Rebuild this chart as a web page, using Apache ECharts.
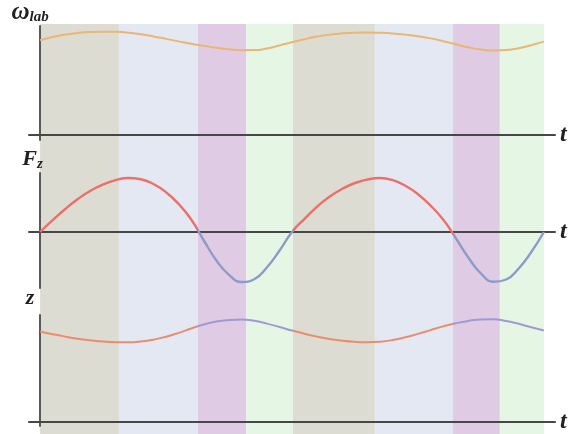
<!DOCTYPE html>
<html>
<head>
<meta charset="utf-8">
<script src="https://cdn.jsdelivr.net/npm/echarts@6/dist/echarts.min.js"></script>
<style>
    html, body { margin: 0; padding: 0; background: #fff; }
    #main { width: 579px; height: 434px; }
</style>
</head>
<body>
<div id="main"></div>
<script>
    // time samples (one period = 1)
    var tVals = [0, 0.05, 0.1, 0.15, 0.2, 0.25, 0.3, 0.35, 0.4, 0.45, 0.5, 0.55, 0.6, 0.65, 0.7, 0.75, 0.8, 0.85, 0.9, 0.95, 1,
                 1.05, 1.1, 1.15, 1.2, 1.25, 1.3, 1.35, 1.4, 1.45, 1.5, 1.55, 1.6, 1.65, 1.7, 1.75, 1.8, 1.85, 1.9, 1.95, 2];
    var omegaVals = [95.7, 98.9, 101.3, 103, 104, 104.3, 104.1, 103.3, 101.7, 99.5, 97, 94.5, 92.1, 90, 88.1, 86.6, 85.6, 85.7, 87.3, 90.3, 93.6,
                     96.7, 99.3, 101.3, 102.6, 103.3, 103.5, 103.2, 102.5, 101.3, 99.7, 97.5, 94.7, 91.5, 88.5, 86.3, 85.3, 85.7, 87.5, 90.6, 94.2];
    var forceVals = [0, 11.8, 23, 33, 41.3, 47.5, 51.8, 54, 52.8, 48, 39.8, 28, 12.5, -8.5, -28.5, -42.8, -50, -47.2, -35.5, -18.8, 0,
                     13.2, 25.4, 35.5, 43.2, 49, 52.5, 54, 51.8, 46.2, 37.8, 26.4, 12.4, -6, -25.5, -41.5, -49.8, -47.5, -36.5, -20, 0];
    var zVals = [92.3, 89.5, 87, 84.9, 83.3, 82, 81.3, 81.2, 82, 83.9, 86.9, 90.8, 95.3, 99.4, 102.3, 103.9, 104.5, 103.1, 100.2, 96.8, 93.2,
                 89.9, 87, 84.6, 82.8, 81.7, 81.3, 81.8, 83.5, 86.3, 89.8, 93.6, 97.4, 100.6, 103, 104.4, 104.6, 103, 100, 96.6, 93.3];

    // background phases
    var bandEdges = [0, 0.313, 0.627, 0.819, 1.004, 1.329, 1.639, 1.825, 2.0];
    var bandPhases = ['tan', 'blue', 'purple', 'green', 'tan', 'blue', 'purple', 'green'];
    var phaseColors = { tan: '#dcdcd2', blue: '#e4e8f2', purple: '#dfcbe3', green: '#e6f6e4' };

    var xMin = -0.044, xMax = 2.044;
    var axisColor = '#474747';
    var labelFont = 'Liberation Serif';

    function pairs(ys) {
        return tVals.map(function (t, i) { return [t, ys[i]]; });
    }

    function phasePieces(posColor, negColor) {
        return bandPhases.map(function (p, i) {
            var neg = (p === 'purple' || p === 'green');
            return {
                gte: i === 0 ? -1 : bandEdges[i],
                lt: i === bandPhases.length - 1 ? 3 : bandEdges[i + 1],
                color: neg ? negColor : posColor
            };
        });
    }

    function xAx(idx, show) {
        return {
            type: 'value', gridIndex: idx, min: xMin, max: xMax,
            show: show,
            name: show ? 't' : '',
            nameLocation: 'end', nameGap: 5,
            nameTextStyle: { fontFamily: labelFont, fontStyle: 'italic', fontWeight: 'bold', fontSize: 24, color: '#222' },
            axisLine: { onZero: true, lineStyle: { color: axisColor, width: 2 } },
            axisTick: { show: false }, axisLabel: { show: false }, splitLine: { show: false },
            z: 5
        };
    }

    function yAx(idx, min, max, name, rich, gap, padRight) {
        return {
            type: 'value', gridIndex: idx, min: min, max: max,
            show: name !== null,
            name: name || '',
            nameLocation: 'end', nameGap: gap,
            nameTextStyle: { rich: rich, padding: [0, padRight, 0, 0] },
            axisLine: { onZero: true, lineStyle: { color: '#595959', width: 2 } },
            axisTick: { show: false }, axisLabel: { show: false }, splitLine: { show: false },
            z: 5
        };
    }

    var big = { fontFamily: labelFont, fontStyle: 'italic', fontWeight: 'bold', fontSize: 25, color: '#222' };
    var mid = { fontFamily: labelFont, fontStyle: 'italic', fontWeight: 'bold', fontSize: 22, color: '#222' };
    var sub = { fontFamily: labelFont, fontStyle: 'italic', fontWeight: 'bold', fontSize: 15, color: '#222', padding: [10, 0, 0, 0] };

    var bandAreas = bandPhases.map(function (p, i) {
        return [{ xAxis: bandEdges[i], itemStyle: { color: phaseColors[p] } }, { xAxis: bandEdges[i + 1] }];
    });

    var myChart = echarts.init(document.getElementById('main'), null, { renderer: 'canvas' });
    var option = {
        animation: false,
        backgroundColor: '#fff',
        grid: [
            { left: 29, right: 24, top: 25, height: 115 },
            { left: 29, right: 24, top: 173, height: 115 },
            { left: 29, right: 24, top: 315, height: 113 },
            { left: 29, right: 24, top: 24, bottom: 0 }
        ],
        xAxis: [xAx(0, true), xAx(1, true), xAx(2, true), xAx(3, false)],
        yAxis: [
            yAx(0, -5, 110, '{b|ω}{s|lab}', { b: big, s: sub }, 1, 20),
            yAx(1, -56, 59, '{b|F}{s|z}', { b: mid, s: sub }, 1, 15),
            yAx(2, -4, 109, '{b|z}', { b: mid }, 6, 20),
            yAx(3, 0, 1, null, {}, 0, 0)
        ],
        visualMap: [
            { type: 'piecewise', show: false, dimension: 0, seriesIndex: 2, pieces: phasePieces('#ec6f68', '#8e9bc8') },
            { type: 'piecewise', show: false, dimension: 0, seriesIndex: 3, pieces: phasePieces('#ea8c6e', '#9d9ad4') }
        ],
        series: [
            {
                type: 'line', xAxisIndex: 3, yAxisIndex: 3, data: [], z: 0, silent: true,
                markArea: { silent: true, data: bandAreas }
            },
            {
                name: 'omega', type: 'line', xAxisIndex: 0, yAxisIndex: 0, data: pairs(omegaVals),
                smooth: 0.5, symbol: 'none', lineStyle: { color: '#e9b673', width: 2 }, z: 6
            },
            {
                name: 'Fz', type: 'line', xAxisIndex: 1, yAxisIndex: 1, data: pairs(forceVals),
                smooth: 0.5, symbol: 'none', lineStyle: { width: 2.4 }, z: 6
            },
            {
                name: 'z', type: 'line', xAxisIndex: 2, yAxisIndex: 2, data: pairs(zVals),
                smooth: 0.5, symbol: 'none', lineStyle: { width: 2 }, z: 6
            }
        ]
    };
    myChart.setOption(option, true);
</script>
</body>
</html>
